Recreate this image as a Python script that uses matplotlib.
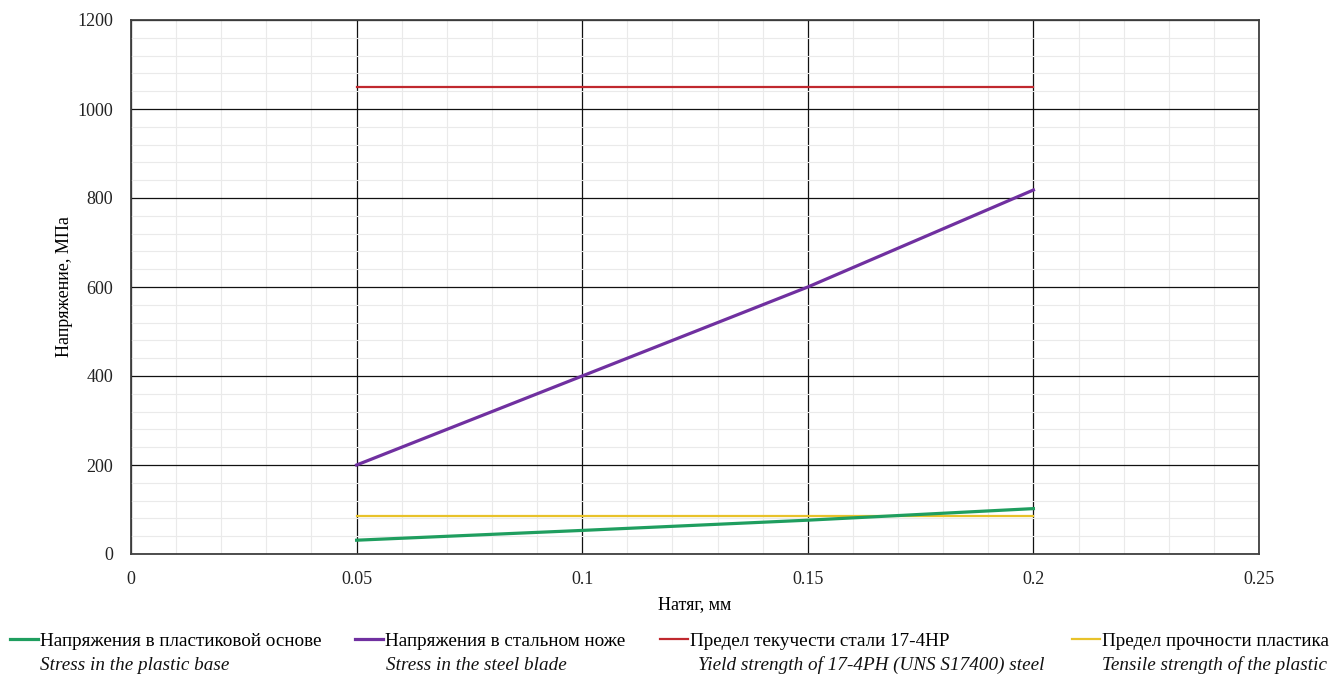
import matplotlib
matplotlib.use("Agg")
import matplotlib.pyplot as plt
from matplotlib.ticker import MultipleLocator

# data
interference = [0.05, 0.1, 0.15, 0.2]
stress_plastic = [31, 53, 76, 102]
stress_steel = [200, 400, 600, 818]
yield_steel = [1050, 1050, 1050, 1050]
tensile_plastic = [85, 85, 85, 85]
xtick_labels = ["0", "0.05", "0.1", "0.15", "0.2", "0.25"]

labels_ru = [
    "Напряжения в пластиковой основе",
    "Напряжения в стальном ноже",
    "Предел текучести стали 17-4НР",
    "Предел прочности пластика",
]
labels_en = [
    "Stress in the plastic base",
    "Stress in the steel blade",
    "Yield strength of 17-4PH (UNS S17400) steel",
    "Tensile strength of the plastic",
]
colors = ["#1f9e5f", "#7030a0", "#c0282e", "#e8c22a"]

plt.rcParams["font.family"] = ["Liberation Serif", "DejaVu Serif"]

W, H = 1332, 675
fig = plt.figure(figsize=(W / 100, H / 100), dpi=100)
ax = fig.add_axes([131 / W, 1 - 554 / H, (1259 - 131) / W, (554 - 20) / H])

l_yel, = ax.plot(interference, tensile_plastic, color=colors[3], lw=1.6, zorder=3)
l_red, = ax.plot(interference, yield_steel, color=colors[2], lw=1.6, zorder=3)
l_pur, = ax.plot(interference, stress_steel, color=colors[1], lw=2.3, zorder=4)
l_grn, = ax.plot(interference, stress_plastic, color=colors[0], lw=2.3, zorder=5)
handles = [l_grn, l_pur, l_red, l_yel]

ax.set_xlim(0, 0.25)
ax.set_ylim(0, 1200)
ax.set_xticks([0, 0.05, 0.1, 0.15, 0.2, 0.25])
ax.set_xticklabels(xtick_labels)
ax.xaxis.set_minor_locator(MultipleLocator(0.01))
ax.yaxis.set_major_locator(MultipleLocator(200))
ax.yaxis.set_minor_locator(MultipleLocator(40))

ax.grid(True, which="minor", color="#eaeaea", lw=0.8, zorder=0)
ax.grid(True, which="major", color="#111111", lw=0.9, zorder=1)
ax.set_axisbelow(True)
for s in ax.spines.values():
    s.set_color("#404040")
    s.set_linewidth(1.3)
ax.tick_params(which="both", length=0, labelsize=13, colors="#222222")
ax.tick_params(axis="y", pad=13)
ax.tick_params(axis="x", pad=12)

ax.set_xlabel("Натяг, мм", fontsize=13, labelpad=6)
ax.set_ylabel("Напряжение, МПа", fontsize=13, labelpad=3)

# legend: one entry per column, english line in italics below
anchors = [10, 355, 660, 1072]
en_x = [40, 386, 698, 1102]
for h, ru, en, ax0, ex in zip(handles, labels_ru, labels_en, anchors, en_x):
    fig.legend(handles=[h], labels=[ru], loc="center left",
               bbox_to_anchor=(ax0 / W, 1 - 641 / H), frameon=False,
               fontsize=13.8, handlelength=1.45, handletextpad=0.12,
               borderpad=0, borderaxespad=0)
    fig.text(ex / W, 1 - 665 / H, en, fontsize=13.8, style="italic",
             va="center", ha="left", color="#111111")

fig.savefig("out.png", dpi=100)
